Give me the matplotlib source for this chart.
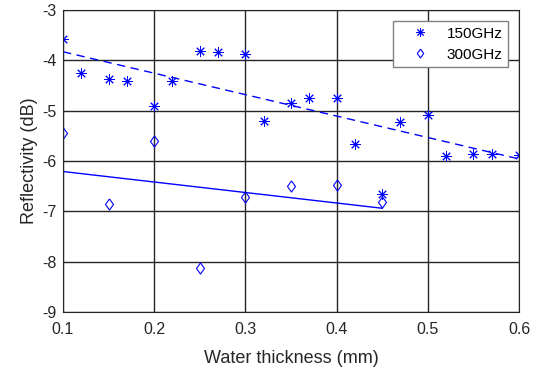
import matplotlib
matplotlib.use("Agg")
from matplotlib import pyplot as plt

plt.rcParams['font.family'] = ['Liberation Sans', 'DejaVu Sans']
plt.rcParams['axes.unicode_minus'] = False

# 150GHz measurements
x150 = [0.10, 0.12, 0.15, 0.17, 0.20, 0.22, 0.25, 0.27, 0.30, 0.32, 0.35,
        0.37, 0.40, 0.42, 0.45, 0.47, 0.50, 0.52, 0.55, 0.57, 0.60]
y150 = [-3.57, -4.25, -4.38, -4.41, -4.91, -4.41, -3.82, -3.83, -3.87, -5.21, -4.84,
        -4.74, -4.74, -5.66, -6.66, -5.22, -5.09, -5.90, -5.86, -5.86, -5.89]

# 300GHz measurements
x300 = [0.10, 0.15, 0.20, 0.25, 0.30, 0.35, 0.40, 0.45]
y300 = [-5.45, -6.86, -5.60, -8.12, -6.71, -6.50, -6.47, -6.82]

# linear fits (end points)
fit150_x = [0.10, 0.60]
fit150_y = [-3.83, -5.96]
fit300_x = [0.10, 0.45]
fit300_y = [-6.21, -6.94]

# matlab-ish diamond, a bit wider than mpl's 'd'
diamond = [(0, 1), (0.72, 0), (0, -1), (-0.72, 0), (0, 1)]

fig = plt.figure(figsize=(5.51, 3.70), dpi=100)
ax = fig.add_axes([0.1143, 0.157, 0.8277, 0.816])

ax.plot(x150, y150, linestyle='none', marker=(8, 2, 0), markersize=7.5,
        markeredgewidth=0.7, color='#0000ff', label='150GHz')
ax.plot(x300, y300, linestyle='none', marker=diamond, markersize=8,
        markerfacecolor='none', markeredgewidth=0.8, color='#0000ff', label='300GHz')
ax.plot(fit150_x, fit150_y, '--', color='#0000ff', linewidth=1.0, dashes=(6, 4))
ax.plot(fit300_x, fit300_y, '-', color='#0000ff', linewidth=1.0)

ax.set_xlim(0.1, 0.6)
ax.set_ylim(-9, -3)
ax.set_xticks([0.1, 0.2, 0.3, 0.4, 0.5, 0.6])
ax.set_xticklabels(['0.1', '0.2', '0.3', '0.4', '0.5', '0.6'])
ax.set_yticks([-9, -8, -7, -6, -5, -4, -3])
ax.grid(True, color='#262626', linewidth=1.0)
ax.tick_params(direction='in', length=0, labelsize=11.5, colors='#262626')
ax.tick_params(axis='x', pad=7.5)
ax.tick_params(axis='y', pad=4.5)
for s in ax.spines.values():
    s.set_color('#262626')

ax.set_xlabel("Water thickness (mm)", fontsize=13, color='#262626', labelpad=9)
ax.set_ylabel("Reflectivity (dB)", fontsize=13, color='#262626', labelpad=3)

ax.legend(loc='upper right', bbox_to_anchor=(0.976, 0.962), fontsize=11,
          fancybox=False, edgecolor='#808080', framealpha=1, borderpad=0.35,
          borderaxespad=0, handlelength=2.8, handletextpad=0.35,
          labelspacing=0.45, markerscale=0.8)

plt.savefig("out.png", dpi=100)
plt.close()
